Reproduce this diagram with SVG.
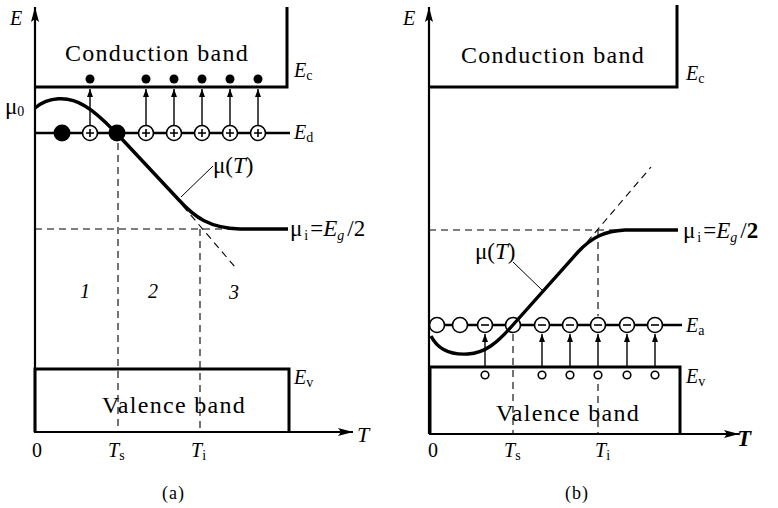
<svg xmlns="http://www.w3.org/2000/svg" width="778" height="508" viewBox="0 0 778 508">
<defs>
<marker id="ah" markerUnits="userSpaceOnUse" markerWidth="9" markerHeight="7" refX="8" refY="3" orient="auto"><path d="M0,0 L8,3 L0,6 z" fill="#000"/></marker>
<marker id="ax" markerUnits="userSpaceOnUse" markerWidth="16" markerHeight="9" refX="15" refY="4" orient="auto"><path d="M0,0 L15,4 L0,8 L3,4 z" fill="#000"/></marker>
<style>
.t{font-family:"Liberation Serif","Times New Roman",serif;fill:#000}
.band{font-size:24px;letter-spacing:1.3px}
.it{font-style:italic}
.lab{font-size:20px}
.big{font-size:23px}
.sub{font-size:14px}
.axis{stroke:#000;stroke-width:2.2;fill:none}
.box{stroke:#000;stroke-width:3;fill:none}
.lvl{stroke:#000;stroke-width:2.4;fill:none}
.curve{stroke:#000;stroke-width:3.4;fill:none;stroke-linejoin:round}
.dash{stroke:#000;stroke-width:1.1;fill:none;stroke-dasharray:7,5}
.lead{stroke:#000;stroke-width:1;fill:none}
.arr{stroke:#000;stroke-width:1.4;fill:none;marker-end:url(#ah)}
.oc{fill:#fff;stroke:#000;stroke-width:1.6}
.fc{fill:#000}
.sign{stroke:#000;stroke-width:1.6}
</style>
</defs>

<!-- Panel (a) -->
<g id="panel-a">
<g id="a-axes">
<line class="axis" x1="35" y1="433" x2="35" y2="7" marker-end="url(#ax)"/>
<line class="axis" x1="35" y1="432" x2="353" y2="432" marker-end="url(#ax)"/>
<text class="t it lab" x="10" y="25">E</text>
<text class="t it" font-size="22" x="357" y="442">T</text>
<text class="t lab" x="32" y="457">0</text>
<text class="t it lab" x="108" y="457">T<tspan class="sub" font-style="normal" dy="3">s</tspan></text>
<text class="t it lab" x="191" y="457">T<tspan class="sub" font-style="normal" dy="3">i</tspan></text>
<text class="t" font-size="18" x="162" y="499">(<tspan dx="1">a</tspan><tspan dx="1">)</tspan></text>
</g>
<g id="a-conduction">
<path class="box" d="M35,87 L287,87 L287,7"/>
<text class="t band" x="157" y="61" text-anchor="middle">Conduction band</text>
<text class="t it lab" x="294" y="77">E<tspan class="sub" font-style="normal" dy="3">c</tspan></text>
</g>
<g id="a-valence">
<path class="box" d="M35,432 L35,369 L289,369 L289,432"/>
<text class="t band" x="174" y="413" text-anchor="middle">Valence band</text>
<text class="t it lab" x="294" y="384">E<tspan class="sub" font-style="normal" dy="3">v</tspan></text>
</g>
<g id="a-donor">
<line class="lvl" x1="35" y1="133" x2="290" y2="133"/>
<text class="t it lab" x="294" y="139">E<tspan class="sub" font-style="normal" dy="3">d</tspan></text>
<circle class="fc" cx="62" cy="133" r="8.5"/>
<circle class="fc" cx="117" cy="133" r="8.5"/>
<g id="a-ions">
<circle class="oc" cx="90" cy="133" r="7.5"/><path class="sign" d="M86,133 h8 M90,129 v8"/>
<circle class="oc" cx="146" cy="133" r="7.5"/><path class="sign" d="M142,133 h8 M146,129 v8"/>
<circle class="oc" cx="174" cy="133" r="7.5"/><path class="sign" d="M170,133 h8 M174,129 v8"/>
<circle class="oc" cx="202" cy="133" r="7.5"/><path class="sign" d="M198,133 h8 M202,129 v8"/>
<circle class="oc" cx="230" cy="133" r="7.5"/><path class="sign" d="M226,133 h8 M230,129 v8"/>
<circle class="oc" cx="258" cy="133" r="7.5"/><path class="sign" d="M254,133 h8 M258,129 v8"/>
</g>
<g id="a-electrons">
<circle class="fc" cx="90" cy="79" r="4.5"/>
<circle class="fc" cx="146" cy="79" r="4.5"/>
<circle class="fc" cx="174" cy="79" r="4.5"/>
<circle class="fc" cx="202" cy="79" r="4.5"/>
<circle class="fc" cx="230" cy="79" r="4.5"/>
<circle class="fc" cx="258" cy="79" r="4.5"/>
</g>
</g>
<g id="a-connectors">
<line class="arr" x1="90" y1="125" x2="90" y2="89"/>
<line class="arr" x1="146" y1="125" x2="146" y2="89"/>
<line class="arr" x1="174" y1="125" x2="174" y2="89"/>
<line class="arr" x1="202" y1="125" x2="202" y2="89"/>
<line class="arr" x1="230" y1="125" x2="230" y2="89"/>
<line class="arr" x1="258" y1="125" x2="258" y2="89"/>
<line class="dash" x1="35" y1="229" x2="240" y2="229"/>
<line class="dash" x1="118" y1="143" x2="118" y2="431"/>
<line class="dash" x1="200" y1="229" x2="200" y2="431"/>
<line class="dash" x1="183" y1="206" x2="235" y2="267"/>
<line class="lead" x1="181" y1="197" x2="213" y2="166"/>
</g>
<g id="a-mu">
<path class="curve" d="M35,108 C48,97 68,95 85,106 C100,115 110,127 120,137 L178,199 C195,218 210,228 240,229 L288,229"/>
<text class="t big" x="5" y="114">μ<tspan class="sub" dy="2">0</tspan></text>
<text class="t big" x="213" y="173">μ(<tspan class="it">T</tspan>)</text>
<text class="t big" x="290" y="236">μ<tspan class="sub" dx="2" dy="4">i</tspan><tspan dx="2" dy="-4">=</tspan><tspan class="it">E</tspan><tspan class="sub it" dy="4">g</tspan><tspan dx="3" dy="-4">/2</tspan></text>
<text class="t it" font-size="20" x="80" y="298">1</text>
<text class="t it" font-size="20" x="148" y="298">2</text>
<text class="t it" font-size="20" x="229" y="299">3</text>
</g>
</g>

<!-- Panel (b) -->
<g id="panel-b">
<g id="b-axes">
<line class="axis" x1="429" y1="434" x2="429" y2="7" marker-end="url(#ax)"/>
<line class="axis" x1="429" y1="434" x2="739" y2="434" marker-end="url(#ax)"/>
<text class="t it lab" x="403" y="25">E</text>
<text class="t it" font-size="23" font-weight="bold" x="737" y="446">T</text>
<text class="t lab" x="428" y="457">0</text>
<text class="t it lab" x="504" y="457">T<tspan class="sub" font-style="normal" dy="3">s</tspan></text>
<text class="t it lab" x="595" y="457">T<tspan class="sub" font-style="normal" dy="3">i</tspan></text>
<text class="t" font-size="18" x="565" y="499">(<tspan dx="1">b</tspan><tspan dx="1">)</tspan></text>
</g>
<g id="b-conduction">
<path class="box" d="M429,87 L677,87 L677,5"/>
<text class="t band" x="553" y="63" text-anchor="middle">Conduction band</text>
<text class="t it lab" x="686" y="80">E<tspan class="sub" font-style="normal" dy="3">c</tspan></text>
</g>
<g id="b-valence">
<path class="box" d="M430,434 L430,367 L680,367 L680,434"/>
<text class="t band" x="568" y="421" text-anchor="middle">Valence band</text>
<text class="t it lab" x="686" y="383">E<tspan class="sub" font-style="normal" dy="3">v</tspan></text>
</g>
<g id="b-acceptor">
<line class="lvl" x1="429" y1="325" x2="682" y2="325"/>
<text class="t it lab" x="686" y="332">E<tspan class="sub" font-style="normal" dy="3">a</tspan></text>
<circle class="oc" cx="437" cy="325" r="7.5"/>
<circle class="oc" cx="460" cy="325" r="7.5"/>
<circle class="oc" cx="513" cy="325" r="7.5"/>
<g id="b-ions">
<circle class="oc" cx="485" cy="325" r="7.5"/><path class="sign" d="M481,325 h8"/>
<circle class="oc" cx="542" cy="325" r="7.5"/><path class="sign" d="M538,325 h8"/>
<circle class="oc" cx="570" cy="325" r="7.5"/><path class="sign" d="M566,325 h8"/>
<circle class="oc" cx="598" cy="325" r="7.5"/><path class="sign" d="M594,325 h8"/>
<circle class="oc" cx="627" cy="325" r="7.5"/><path class="sign" d="M623,325 h8"/>
<circle class="oc" cx="655" cy="325" r="7.5"/><path class="sign" d="M651,325 h8"/>
</g>
<g id="b-holes">
<circle class="oc" cx="485" cy="375" r="3.8"/>
<circle class="oc" cx="542" cy="375" r="3.8"/>
<circle class="oc" cx="570" cy="375" r="3.8"/>
<circle class="oc" cx="598" cy="375" r="3.8"/>
<circle class="oc" cx="627" cy="375" r="3.8"/>
<circle class="oc" cx="655" cy="375" r="3.8"/>
</g>
</g>
<g id="b-connectors">
<line class="arr" x1="485" y1="366" x2="485" y2="334"/>
<line class="arr" x1="542" y1="366" x2="542" y2="334"/>
<line class="arr" x1="570" y1="366" x2="570" y2="334"/>
<line class="arr" x1="598" y1="366" x2="598" y2="334"/>
<line class="arr" x1="627" y1="366" x2="627" y2="334"/>
<line class="arr" x1="655" y1="366" x2="655" y2="334"/>
<line class="dash" x1="429" y1="230" x2="622" y2="230"/>
<line class="dash" x1="598" y1="230" x2="598" y2="316"/>
<line class="dash" x1="598" y1="384" x2="598" y2="433"/>
<line class="dash" x1="513" y1="334" x2="513" y2="433"/>
<line class="dash" x1="587" y1="242" x2="651" y2="167"/>
<line class="lead" x1="513" y1="262" x2="542" y2="290"/>
</g>
<g id="b-mu">
<path class="curve" d="M431,336 C438,350 452,355 468,354 C485,353 497,343 512,326 L578,252 C592,237 605,231 625,230 L678,230"/>
<text class="t big" x="475" y="259">μ(<tspan class="it">T</tspan>)</text>
<text class="t big" x="683" y="238">μ<tspan class="sub" dx="2" dy="4">i</tspan><tspan dx="2" dy="-4">=</tspan><tspan class="it">E</tspan><tspan class="sub it" dy="4">g</tspan><tspan dx="3" dy="-4">/</tspan><tspan font-weight="bold">2</tspan></text>
</g>
</g>
</svg>
